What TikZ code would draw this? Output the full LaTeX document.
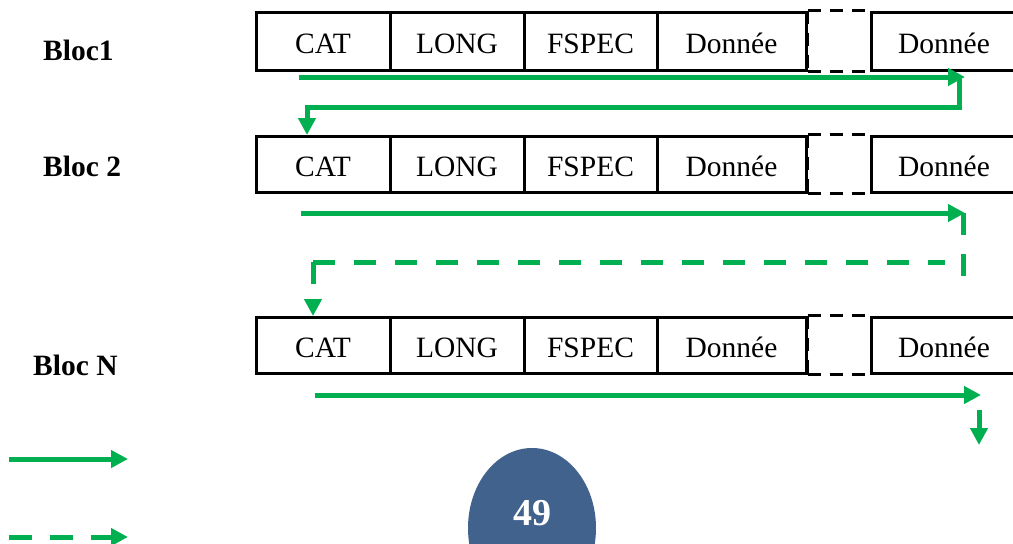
\documentclass[tikz,border=0pt]{standalone}
\usepackage{fontspec}
\setmainfont{Liberation Serif}
\usetikzlibrary{arrows.meta,shapes.geometric}
\definecolor{flowgreen}{HTML}{00B050}
\definecolor{pageblue}{HTML}{41628C}
\tikzset{
  cell/.style={draw=black, line width=3pt, rectangle, inner sep=0pt,
    minimum height=57pt, text height=26pt, text depth=2pt,
    font=\fontsize{29.5}{34}\selectfont},
  gapbox/.style={draw=black, line width=3pt, dash pattern=on 13pt off 9pt},
  bloclabel/.style={anchor=base west, inner sep=0pt, font=\fontsize{29.5}{33}\selectfont\bfseries},
  flow/.style={draw=flowgreen, line width=5pt, line join=miter,
    -{Triangle[length=17pt,width=17pt]}},
  flowplain/.style={draw=flowgreen, line width=5pt, line join=miter},
  flowdash/.style={flow, dash pattern=on 22pt off 19pt},
}
\newcommand{\blocrow}[3]{% #1 prefix, #2 top, #3 bottom
  \pgfmathsetmacro{\rmid}{(#2+#3)/2}
  \pgfmathsetmacro{\rh}{#3-#2}
  \node[cell, minimum width=134pt, minimum height=\rh pt] (#1cat) at (323,\rmid) {CAT};
  \node[cell, minimum width=134pt, minimum height=\rh pt] (#1long) at (457,\rmid) {LONG};
  \node[cell, minimum width=133pt, minimum height=\rh pt] (#1fspec) at (590.5,\rmid) {FSPEC};
  \node[cell, minimum width=149pt, minimum height=\rh pt] (#1don) at (731.5,\rmid) {Donnée};
  \node[cell, minimum width=146pt, minimum height=\rh pt] (#1donl) at (944,\rmid) {Donnée};
  \draw[gapbox] (#1don.north east) -- (#1donl.north west);
  \draw[gapbox] (#1don.south east) -- (#1donl.south west);
  \draw[gapbox] (#1don.north east) -- (#1don.south east);
}
\begin{document}
\begin{tikzpicture}[x=1pt,y=-1pt]
\clip (0,0) rectangle (1013,544);
\fill[white] (0,0) rectangle (1013,544);

% rows
\blocrow{ra}{12}{70}
\blocrow{rb}{136}{192}
\blocrow{rn}{317}{373}

% labels
\node[bloclabel] (lab1) at (43,60) {Bloc1};
\node[bloclabel] (lab2) at (43,176) {Bloc 2};
\node[bloclabel] (labn) at (33,375) {Bloc N};

% flow of block 1
\coordinate (a1s) at (299,77);
\coordinate (a1e) at (965,77);
\draw[flow] (a1s) -- (a1e);
\coordinate (r1a) at (959,79);
\coordinate (r1b) at (959,107);
\coordinate (r1c) at (307,107);
\coordinate (r1d) at (307,135);
\draw[flow] (r1a) -- (r1b) -- (r1c) -- (r1d);

% flow of block 2
\coordinate (a2s) at (301,213);
\coordinate (a2e) at (965,213);
\draw[flow] (a2s) -- (a2e);
\coordinate (d2a) at (963,213);
\coordinate (d2b) at (963,277);
\draw[flowplain, dash pattern=on 22pt off 19pt] (d2a) -- (d2b);
\coordinate (d2c) at (313,262);
\coordinate (d2d) at (945,262);
\coordinate (d2e) at (313,316);
\draw[flowplain, dash pattern=on 22pt off 19pt] (d2c) -- (d2d);
\draw[flowdash] (d2c) -- (d2e);

% flow of block N
\coordinate (aNs) at (315,395);
\coordinate (aNe) at (981,395);
\draw[flow] (aNs) -- (aNe);
\coordinate (dNa) at (979,410);
\coordinate (dNb) at (979,445);
\draw[flow] (dNa) -- (dNb);

% legend
\coordinate (l1a) at (9,459);
\coordinate (l1b) at (128,459);
\draw[flow] (l1a) -- (l1b);
\coordinate (l2a) at (9,537);
\coordinate (l2b) at (128,537);
\draw[flow, dash pattern=on 23pt off 18pt] (l2a) -- (l2b);

% page number
\node[ellipse, fill=pageblue, inner sep=0pt, minimum width=128pt, minimum height=160pt] (page) at (532,528) {};
\node[text=white, inner sep=0pt, font=\fontsize{38}{40}\selectfont\bfseries] (pnum) at (532,513) {49};
\end{tikzpicture}
\end{document}
